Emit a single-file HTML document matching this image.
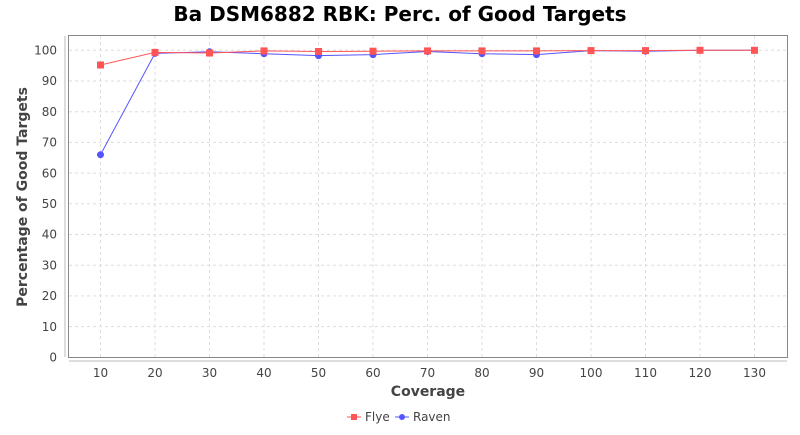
<!DOCTYPE html>
<html><head><style>body{margin:0;background:#fff}</style></head><body>
<svg width="800" height="430" xmlns="http://www.w3.org/2000/svg" font-family="'DejaVu Sans','Liberation Sans',sans-serif">
<rect width="800" height="430" fill="#fff"/>
<text x="400" y="21" text-anchor="middle" font-size="20" font-weight="bold" fill="#000">Ba DSM6882 RBK: Perc. of Good Targets</text>
<rect x="68.5" y="35.5" width="719" height="322" fill="#fff" stroke="#888"/>
<g stroke="#ddd" stroke-dasharray="3,3" stroke-width="1">
<line x1="69" x2="787" y1="326.6" y2="326.6"/><line x1="69" x2="787" y1="295.9" y2="295.9"/><line x1="69" x2="787" y1="265.2" y2="265.2"/><line x1="69" x2="787" y1="234.5" y2="234.5"/><line x1="69" x2="787" y1="203.8" y2="203.8"/><line x1="69" x2="787" y1="173.1" y2="173.1"/><line x1="69" x2="787" y1="142.4" y2="142.4"/><line x1="69" x2="787" y1="111.7" y2="111.7"/><line x1="69" x2="787" y1="81" y2="81"/><line x1="69" x2="787" y1="50.3" y2="50.3"/>
<line y1="36" y2="357" x1="100.5" x2="100.5"/><line y1="36" y2="357" x1="155" x2="155"/><line y1="36" y2="357" x1="209.5" x2="209.5"/><line y1="36" y2="357" x1="264" x2="264"/><line y1="36" y2="357" x1="318.5" x2="318.5"/><line y1="36" y2="357" x1="373" x2="373"/><line y1="36" y2="357" x1="427.5" x2="427.5"/><line y1="36" y2="357" x1="482" x2="482"/><line y1="36" y2="357" x1="536.5" x2="536.5"/><line y1="36" y2="357" x1="591" x2="591"/><line y1="36" y2="357" x1="645.5" x2="645.5"/><line y1="36" y2="357" x1="700" x2="700"/><line y1="36" y2="357" x1="754.5" x2="754.5"/>
</g>
<g stroke="#bbb"><line x1="65" x2="65" y1="36" y2="357"/><line x1="69" x2="787" y1="361" y2="361"/></g>
<g font-size="12" fill="#444" text-anchor="end">
<text x="57" y="361.5">0</text><text x="57" y="330.8">10</text><text x="57" y="300.1">20</text><text x="57" y="269.4">30</text><text x="57" y="238.7">40</text><text x="57" y="208">50</text><text x="57" y="177.3">60</text><text x="57" y="146.6">70</text><text x="57" y="115.9">80</text><text x="57" y="85.2">90</text><text x="57" y="54.5">100</text>
</g>
<g font-size="12" fill="#444" text-anchor="middle">
<text x="100.5" y="377">10</text><text x="155" y="377">20</text><text x="209.5" y="377">30</text><text x="264" y="377">40</text><text x="318.5" y="377">50</text><text x="373" y="377">60</text><text x="427.5" y="377">70</text><text x="482" y="377">80</text><text x="536.5" y="377">90</text><text x="591" y="377">100</text><text x="645.5" y="377">110</text><text x="700" y="377">120</text><text x="754.5" y="377">130</text>
</g>
<text x="428" y="396" text-anchor="middle" font-size="14" font-weight="bold" fill="#444">Coverage</text>
<text transform="translate(27,197) rotate(-90)" text-anchor="middle" font-size="14" font-weight="bold" fill="#444">Percentage of Good Targets</text>
<polyline fill="none" stroke="#5555ff" stroke-width="1" points="100.5,154.7 155,53.4 209.5,51.8 264,53.7 318.5,55.6 373,54.6 427.5,51.5 482,53.7 536.5,54.6 591,50.6 645.5,51.2 700,50.3 754.5,50.3"/>
<g fill="#5555ff"><circle cx="100.5" cy="154.7" r="3.5"/><circle cx="155" cy="53.4" r="3.5"/><circle cx="209.5" cy="51.8" r="3.5"/><circle cx="264" cy="53.7" r="3.5"/><circle cx="318.5" cy="55.6" r="3.5"/><circle cx="373" cy="54.6" r="3.5"/><circle cx="427.5" cy="51.5" r="3.5"/><circle cx="482" cy="53.7" r="3.5"/><circle cx="536.5" cy="54.6" r="3.5"/><circle cx="591" cy="50.6" r="3.5"/><circle cx="645.5" cy="51.2" r="3.5"/><circle cx="700" cy="50.3" r="3.5"/><circle cx="754.5" cy="50.3" r="3.5"/></g>
<polyline fill="none" stroke="#ff5555" stroke-width="1" points="100.5,65 155,52.4 209.5,53 264,50.9 318.5,51.5 373,51.2 427.5,50.9 482,50.9 536.5,50.9 591,50.6 645.5,50.6 700,50.3 754.5,50.3"/>
<g fill="#ff5555"><rect x="97" y="61.5" width="7" height="7"/><rect x="151.5" y="48.9" width="7" height="7"/><rect x="206" y="49.5" width="7" height="7"/><rect x="260.5" y="47.4" width="7" height="7"/><rect x="315" y="48" width="7" height="7"/><rect x="369.5" y="47.7" width="7" height="7"/><rect x="424" y="47.4" width="7" height="7"/><rect x="478.5" y="47.4" width="7" height="7"/><rect x="533" y="47.4" width="7" height="7"/><rect x="587.5" y="47.1" width="7" height="7"/><rect x="642" y="47.1" width="7" height="7"/><rect x="696.5" y="46.8" width="7" height="7"/><rect x="751" y="46.8" width="7" height="7"/></g>
<line x1="347" x2="361" y1="417" y2="417" stroke="#ff5555"/><rect x="351" y="414" width="6" height="6" fill="#ff5555"/>
<text x="365" y="421" font-size="12" fill="#444">Flye</text>
<line x1="395" x2="409" y1="417" y2="417" stroke="#5555ff"/><circle cx="402" cy="417" r="3" fill="#5555ff"/>
<text x="413" y="421" font-size="12" fill="#444">Raven</text>
</svg>
</body></html>
